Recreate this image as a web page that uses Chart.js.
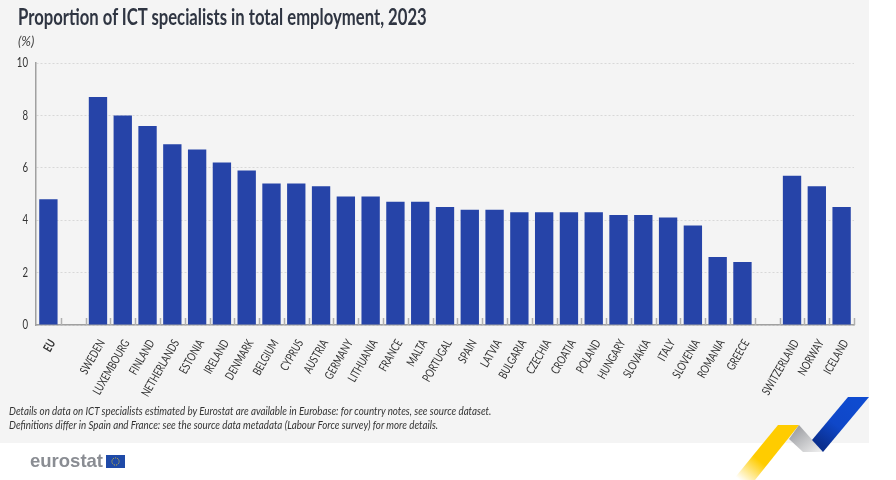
<!DOCTYPE html>
<html>
<head>
<meta charset="utf-8">
<style>
  html, body { margin: 0; padding: 0; background: #fff; }
  #page { position: relative; width: 896px; height: 480px; overflow: hidden; }
  #panel { position: absolute; left: 0; top: 0; width: 869px; height: 443px; background: #f4f4f4; }
  canvas { position: absolute; left: 0; top: 0; }
  .txt { position: absolute; white-space: nowrap; font-family: Lato, "Open Sans", sans-serif; transform-origin: left top; }
  #title { left: 18px; top: 2px; font-size: 23px; font-weight: bold; color: #2f3542; transform: scaleX(0.725); }
  #unit { left: 18px; top: 33px; font-size: 13px; font-style: italic; color: #444; }
  #notes { left: 9px; top: 404px; font-size: 12px; line-height: 14px; font-style: italic; color: #333; transform: scaleX(0.815); }
  #logo { left: 30px; top: 450px; font-family: "Liberation Sans", sans-serif; font-size: 18.5px; font-weight: bold; color: #8a8d93; }
  svg { position: absolute; left: 0; top: 0; }
</style>
</head>
<body>
<div id="page">
  <div id="panel"></div>
  <canvas id="myChart" width="896" height="480"></canvas>
  <svg width="896" height="480">
    <defs>
      <linearGradient id="yel" x1="0.75" y1="0.35" x2="0.1" y2="1">
        <stop offset="0" stop-color="#ffcc00"/><stop offset="0.5" stop-color="#ffcc00"/><stop offset="1" stop-color="#ffffff"/>
      </linearGradient>
      <linearGradient id="gry" x1="0" y1="0" x2="1" y2="1">
        <stop offset="0" stop-color="#8f9196"/><stop offset="1" stop-color="#f2f2f2"/>
      </linearGradient>
      <linearGradient id="blu" x1="0.8" y1="0.1" x2="0.2" y2="0.9">
        <stop offset="0" stop-color="#0f4bd0"/><stop offset="0.55" stop-color="#0f47c8"/><stop offset="1" stop-color="#0a2f8f"/>
      </linearGradient>
    </defs>
    <polygon points="778,425 799,425 755,480 733,480" fill="url(#yel)"/>
    <polygon points="799,425 823,452 803,452 789,439" fill="url(#gry)"/>
    <polygon points="848,397 869,397 823,452 812,440" fill="url(#blu)"/>
    <rect x="106" y="455" width="19" height="13" fill="#1f4aa8"/>
    <circle cx="115.5" cy="461.5" r="3.6" fill="none" stroke="#e3c531" stroke-width="1" stroke-dasharray="1 1"/>
  </svg>
  <div class="txt" id="title">Proportion of ICT specialists in total employment, 2023</div>
  <div class="txt" id="unit">(%)</div>
  <div class="txt" id="notes">Details on data on ICT specialists estimated by Eurostat are available in Eurobase: for country notes, see source dataset.<br>Definitions differ in Spain and France: see the source data metadata (Labour Force survey) for more details.</div>
  <div class="txt" id="logo">eurostat</div>
</div>
<script src="https://cdn.jsdelivr.net/npm/chart.js@4"></script>
<script>
var categories = ["EU", "", "SWEDEN", "LUXEMBOURG", "FINLAND", "NETHERLANDS", "ESTONIA", "IRELAND", "DENMARK", "BELGIUM", "CYPRUS", "AUSTRIA", "GERMANY", "LITHUANIA", "FRANCE", "MALTA", "PORTUGAL", "SPAIN", "LATVIA", "BULGARIA", "CZECHIA", "CROATIA", "POLAND", "HUNGARY", "SLOVAKIA", "ITALY", "SLOVENIA", "ROMANIA", "GREECE", " ", "SWITZERLAND", "NORWAY", "ICELAND"];
var shares = [4.8, null, 8.7, 8.0, 7.6, 6.9, 6.7, 6.2, 5.9, 5.4, 5.4, 5.3, 4.9, 4.9, 4.7, 4.7, 4.5, 4.4, 4.4, 4.3, 4.3, 4.3, 4.3, 4.2, 4.2, 4.1, 3.8, 2.6, 2.4, null, 5.7, 5.3, 4.5];
var fontName = 'Lato, "Open Sans", sans-serif';
var squeeze = 0.74;

var canvas = document.getElementById('myChart');
var ctx = canvas.getContext('2d');

// the reference uses a condensed face and none is installed, so narrow the axis text
var plainFillText = ctx.fillText;
ctx.fillText = function (text, x, y) {
	this.save();
	this.scale(squeeze, 1);
	plainFillText.call(this, text, x / squeeze, y);
	this.restore();
};

// small tick marks between the categories, standing up from the axis
var boundaryTicks = {
	id: 'boundaryTicks',
	afterDatasetsDraw: function (chart) {
		var x = chart.scales.x;
		var c = chart.ctx;
		var step = x.getPixelForValue(1) - x.getPixelForValue(0);
		c.save();
		c.strokeStyle = '#b0b0b0';
		c.lineWidth = 1.5;
		c.beginPath();
		for (var i = 1; i <= categories.length; i++) {
			var px = Math.round(x.getPixelForValue(i) - step / 2) + 0.5;
			c.moveTo(px, x.top - 7);
			c.lineTo(px, x.top);
		}
		c.stroke();
		c.restore();
	}
};

var chart = new Chart(ctx, {
	type: 'bar',
	plugins: [boundaryTicks],
	data: {
		labels: categories,
		datasets: [{
			data: shares,
			backgroundColor: '#2644a8',
			barPercentage: 0.74,
			categoryPercentage: 1
		}]
	},
	options: {
		responsive: false,
		animation: false,
		layout: { padding: { top: 63, right: 42, bottom: 55, left: 0 } },
		plugins: { legend: { display: false }, tooltip: { enabled: false } },
		scales: {
			x: {
				afterFit: function (scale) { scale.height = 100; },
				grid: { display: false },
				border: { color: '#a0a0a0', width: 1.5 },
				ticks: {
					autoSkip: false,
					minRotation: 60,
					maxRotation: 60,
					padding: 4,
					labelOffset: 4,
					color: '#333',
					font: function (c) {
						return { family: fontName, size: 12, weight: c.index === 0 ? 'bold' : 'normal' };
					}
				}
			},
			y: {
				min: 0,
				max: 10,
				afterFit: function (scale) { scale.width = 36; },
				grid: { color: '#d8d8d8', lineWidth: 1, drawTicks: false },
				border: { color: '#a0a0a0', width: 1.5, dash: [2, 2] },
				ticks: {
					stepSize: 2,
					padding: 8,
					color: '#333',
					font: { family: fontName, size: 13 }
				}
			}
		}
	}
});
</script>
</body>
</html>
